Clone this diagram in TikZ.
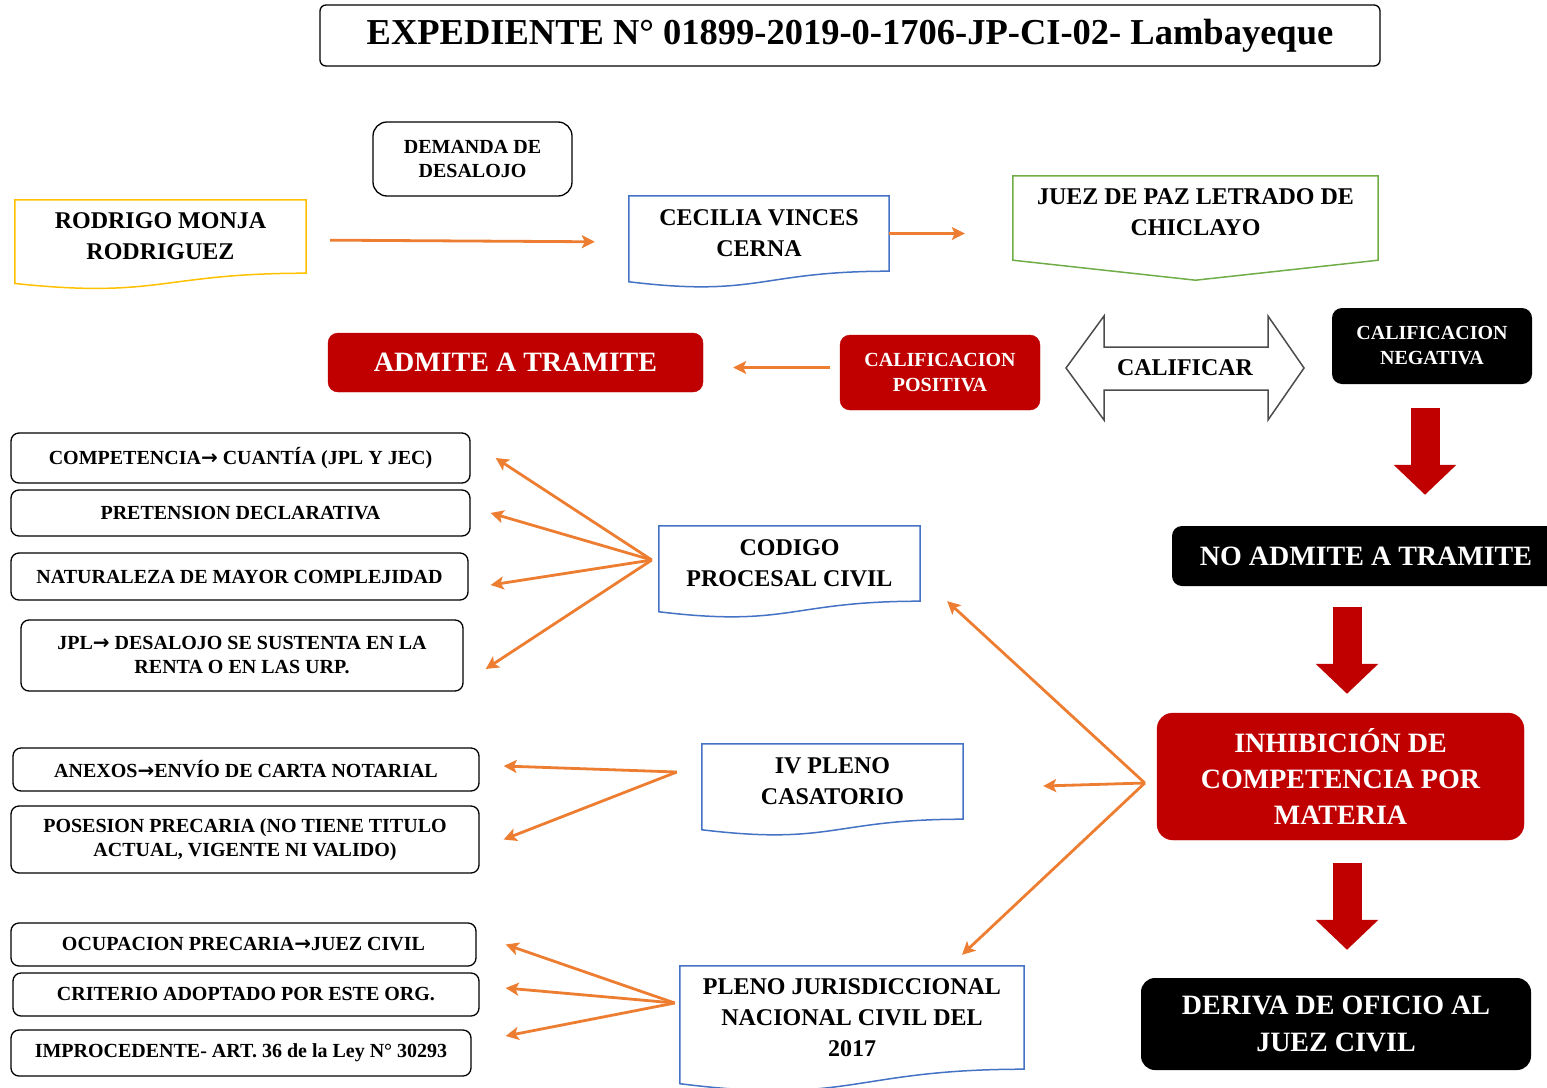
\documentclass[tikz,border=0pt]{standalone}
\usepackage{fontspec}
\setmainfont{Liberation Serif}
\newfontfamily\arrowfont{DejaVu Sans}
\usetikzlibrary{arrows.meta,calc}
\definecolor{naranja}{HTML}{ED7D31}
\definecolor{rojo}{HTML}{C00000}
\definecolor{azul}{HTML}{4472C4}
\definecolor{verde}{HTML}{70AD47}
\definecolor{amarillo}{HTML}{FFC000}
\newcommand{\fs}[2]{\bfseries\fontsize{#1}{#2}\selectfont}
\newcommand{\flecha}{{\arrowfont\bfseries →}}
% outline of a "document" box: flat top, wavy bottom
\newcommand{\docedge}[2]{%
    \draw[#2, line width=1.5pt] (#1.north west) -- (#1.north east) -- (#1.south east)
        .. controls (#1.south) and ($(#1.north)!1.35!(#1.south)$)
        .. ($(#1.north west)!1.14!(#1.south west)$) -- cycle;}
\tikzset{%
    itm/.style={draw, line width=1.3pt, rounded corners=8pt, inner sep=0pt, align=center, font=\fs{20}{24}},
    docbx/.style={inner sep=0pt, align=center, font=\fs{24}{31}},
    redbx/.style={fill=rojo, draw=rojo, rounded corners=10pt, text=white, inner sep=0pt, align=center},
    blkbx/.style={fill=black, rounded corners=10pt, text=white, inner sep=0pt, align=center},
    conn/.style={naranja, line width=2.8pt, -{Stealth[length=13pt,width=13pt,inset=3pt]}},
    bigarr/.style={rojo, line width=29pt, -{Triangle[length=30pt,width=61pt]}}
}
\begin{document}
\begin{tikzpicture}[x=1pt,y=-1pt]
    \useasboundingbox (0,0) rectangle (1547,1087);
    \clip (0,0) rectangle (1547,1087);

    \node[itm, rounded corners=6pt, minimum width=1060pt, minimum height=61pt, font=\fs{36.5}{40}] (titulo) at (850,35.5)
        {EXPEDIENTE N° 01899-2019-0-1706-JP-CI-02- Lambayeque};

    % upper row
    \node[itm, rounded corners=14pt, minimum width=199pt, minimum height=74pt] (demanda) at (472.5,159) {DEMANDA DE\\DESALOJO};
    \node[docbx, minimum width=291pt, minimum height=73pt] (rodrigo) at (160.5,236.5) {RODRIGO MONJA\\RODRIGUEZ};
    \node[docbx, minimum width=260pt, minimum height=75pt] (cecilia) at (759,233.5) {CECILIA VINCES\\CERNA};
    \node[docbx, minimum width=365pt, minimum height=73pt] (juez) at (1195.5,212.5) {JUEZ DE PAZ LETRADO DE\\CHICLAYO};
    \docedge{rodrigo}{amarillo}
    \docedge{cecilia}{azul}
    \draw[verde, line width=1.5pt] (juez.north west) -- (juez.north east) -- ([yshift=-11pt]juez.south east)
        -- ([yshift=-31pt]juez.south) -- ([yshift=-11pt]juez.south west) -- cycle;

    \draw[conn, shorten <=24pt, shorten >=34pt] ([yshift=-3.5pt]rodrigo.east) -- ([yshift=-8.5pt]cecilia.west);
    \draw[conn, shorten >=48pt] (cecilia.east) -- (cecilia.east -| juez.west);

    % calificacion
    \node[redbx, minimum width=375pt, minimum height=59pt, font=\fs{28}{34}] (admite) at (515.5,362.5) {ADMITE A TRAMITE};
    \node[redbx, minimum width=200pt, minimum height=75pt, font=\fs{20}{25}] (positiva) at (940,372.5) {CALIFICACION\\POSITIVA};
    \draw[gray!60!black, line width=1.5pt, fill=white] (1066,368) -- (1104,316) -- (1104,347) -- (1268,347) -- (1268,316)
        -- (1304,368) -- (1268,420) -- (1268,390) -- (1104,390) -- (1104,420) -- cycle;
    \node[font=\fs{24}{28}] (calificar) at (1185,368) {CALIFICAR};
    \node[blkbx, minimum width=200pt, minimum height=76pt, font=\fs{20}{25}] (negativa) at (1432,346) {CALIFICACION\\NEGATIVA};
    \draw[conn, shorten <=10pt, shorten >=30pt] ([yshift=5pt]positiva.west) -- ([yshift=5pt]positiva.west -| admite.east);

    % right column
    \node[blkbx, minimum width=388pt, minimum height=60pt, font=\fs{28}{34}] (noadmite) at (1366,556) {NO ADMITE A TRAMITE};
    \node[redbx, rounded corners=16pt, minimum width=367pt, minimum height=127pt, font=\fs{28}{36}] (inhibicion) at (1340.5,776.5)
        {INHIBICIÓN DE\\COMPETENCIA POR\\MATERIA};
    \node[blkbx, rounded corners=14pt, minimum width=390pt, minimum height=92pt, font=\fs{28}{37}] (deriva) at (1336,1024)
        {DERIVA DE OFICIO AL\\JUEZ CIVIL};
    \coordinate (colA) at (1425,0);
    \coordinate (colB) at (1347,0);
    \draw[bigarr, shorten <=24pt, shorten >=31pt] (negativa.south -| colA) -- (noadmite.north -| colA);
    \draw[bigarr, shorten <=21pt, shorten >=19pt] (noadmite.south -| colB) -- (inhibicion.north -| colB);
    \draw[bigarr, shorten <=23pt, shorten >=28pt] (inhibicion.south -| colB) -- (deriva.north -| colB);

    % sources
    \node[docbx, minimum width=261pt, minimum height=75pt] (cpc) at (789.5,563.5) {CODIGO\\PROCESAL CIVIL};
    \node[docbx, minimum width=261pt, minimum height=75pt] (casatorio) at (832.5,781.5) {IV PLENO\\CASATORIO};
    \node[docbx, minimum width=344pt, minimum height=103pt] (pleno) at (852,1017.5) {PLENO JURISDICCIONAL\\NACIONAL CIVIL DEL\\2017};
    \docedge{cpc}{azul}
    \docedge{casatorio}{azul}
    \docedge{pleno}{azul}

    % left items
    \node[itm, minimum width=459pt, minimum height=50pt] (competencia) at (240.5,458) {COMPETENCIA\flecha{} CUANTÍA (JPL Y JEC)};
    \node[itm, minimum width=459pt, minimum height=46pt] (pretension) at (240.5,513) {PRETENSION DECLARATIVA};
    \node[itm, minimum width=457pt, minimum height=47pt] (naturaleza) at (239.5,576.5) {NATURALEZA DE MAYOR COMPLEJIDAD};
    \node[itm, minimum width=442pt, minimum height=71pt] (jpl) at (242,655.5) {JPL\flecha{} DESALOJO SE SUSTENTA EN LA\\RENTA O EN LAS URP.};
    \node[itm, minimum width=466pt, minimum height=43pt] (anexos) at (246,769.5) {ANEXOS\flecha{}ENVÍO DE CARTA NOTARIAL};
    \node[itm, minimum width=468pt, minimum height=67pt] (posesion) at (245,839.5) {POSESION PRECARIA (NO TIENE TITULO\\ACTUAL, VIGENTE NI VALIDO)};
    \node[itm, minimum width=465pt, minimum height=43pt] (ocupacion) at (243.5,944.5) {OCUPACION PRECARIA\flecha{}JUEZ CIVIL};
    \node[itm, minimum width=466pt, minimum height=43pt] (criterio) at (246,994.5) {CRITERIO ADOPTADO POR ESTE ORG.};
    \node[itm, minimum width=460pt, minimum height=46pt] (improcedente) at (241,1053) {IMPROCEDENTE- ART. 36 de la Ley N° 30293};

    % fans
    \coordinate (fanA) at ([xshift=-7pt,yshift=3.5pt]cpc.west);
    \draw[conn] (fanA) -- ([xshift=25pt]competencia.east);
    \draw[conn] (fanA) -- ([xshift=20pt]pretension.east);
    \draw[conn] (fanA) -- ([xshift=22pt,yshift=-8.5pt]naturaleza.east);
    \draw[conn] (fanA) -- ([xshift=22pt,yshift=-13.5pt]jpl.east);

    \coordinate (fanB) at ([xshift=-25pt,yshift=9.5pt]casatorio.west);
    \draw[conn] (fanB) -- ([xshift=24pt,yshift=3.5pt]anexos.east);
    \draw[conn] (fanB) -- ([xshift=24pt]posesion.east);

    \coordinate (fanC) at ([xshift=-5pt,yshift=14.5pt]pleno.west);
    \draw[conn] (fanC) -- ([xshift=29pt]ocupacion.east);
    \draw[conn] (fanC) -- ([xshift=26pt,yshift=6.5pt]criterio.east);
    \draw[conn] (fanC) -- ([xshift=34pt,yshift=17pt]improcedente.east);

    \coordinate (fanD) at ([xshift=-12pt,yshift=-6.5pt]inhibicion.west);
    \draw[conn] (fanD) -- ([xshift=27pt]cpc.south east);
    \draw[conn] (fanD) -- ([xshift=80pt,yshift=-4.5pt]casatorio.east);
    \draw[conn] (fanD) -- ([xshift=110pt,yshift=11pt]pleno.north);
\end{tikzpicture}
\end{document}
